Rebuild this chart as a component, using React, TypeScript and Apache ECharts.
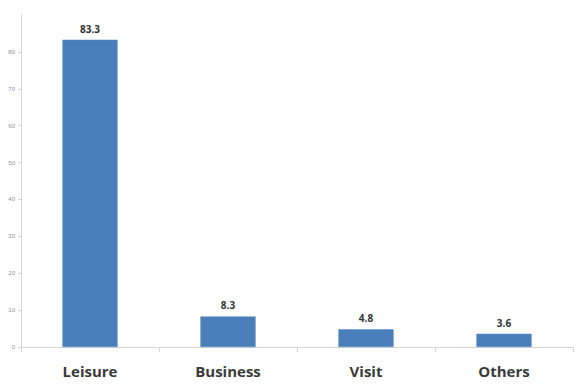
import React, { useEffect, useRef } from "react";
import * as echarts from "echarts";

const categories = ["Leisure", "Business", "Visit", "Others"];
const values = [83.3, 8.3, 4.8, 3.6];
const yTicks = { min: 0, max: 90, interval: 10 };

export default function App() {
  const ref = useRef<HTMLDivElement>(null);
  useEffect(() => {
    if (!ref.current) return;
    const chart = echarts.init(ref.current, null, { renderer: "svg" });
    chart.setOption({
      animation: false,
      backgroundColor: "#ffffff",
      grid: { left: 21, right: 11, top: 15, bottom: 38, containLabel: false },
      xAxis: {
        type: "category",
        data: categories,
        axisLine: { lineStyle: { color: "#d4d4d4", width: 1 } },
        axisTick: { show: true, length: 5, lineStyle: { color: "#d4d4d4" } },
        axisLabel: {
          color: "#3a3a3a",
          fontSize: 15,
          fontWeight: "bold",
          fontFamily: "Open Sans, Liberation Sans, sans-serif",
          margin: 16,
        },
      },
      yAxis: {
        type: "value",
        min: yTicks.min,
        max: yTicks.max,
        interval: yTicks.interval,
        splitLine: { show: false },
        axisLine: { show: true, lineStyle: { color: "#d4d4d4", width: 1 } },
        axisTick: { show: true, length: 3, lineStyle: { color: "#d4d4d4" } },
        axisLabel: {
          color: "#909090",
          fontSize: 6,
          margin: 6,
          showMaxLabel: false,
          fontFamily: "Liberation Sans, sans-serif",
        },
      },
      series: [
        {
          type: "bar",
          data: values,
          barWidth: "40%",
          itemStyle: { color: "#4a7ebb", borderColor: "#5b8bc6", borderWidth: 0.5 },
          label: {
            show: true,
            position: "top",
            distance: 6,
            color: "#333333",
            fontSize: 10,
            fontWeight: "bold",
            fontFamily: "Open Sans, Liberation Sans, sans-serif",
          },
        },
      ],
    });
    return () => chart.dispose();
  }, []);
  return (
    <div
      ref={ref}
      style={{ position: "fixed", left: 0, top: 0, width: 584, height: 385 }}
    />
  );
}
